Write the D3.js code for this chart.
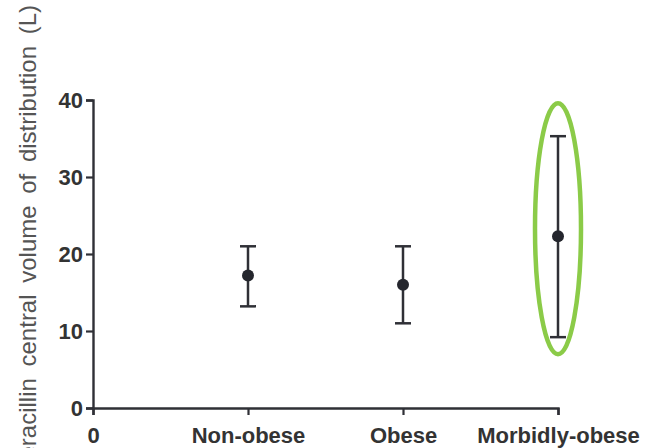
<!DOCTYPE html>
<html>
<head>
<meta charset="utf-8">
<script src="https://cdn.jsdelivr.net/npm/d3@7/dist/d3.min.js"></script>
<style>
  html, body { margin: 0; padding: 0; background: #fff; }
  svg { display: block; }
</style>
</head>
<body>
<svg id="chart" width="647" height="448"></svg>
<script>
// Groups and their mean with lower/upper error bounds (L)
const groups = ["Non-obese", "Obese", "Morbidly-obese"];
const means = [17.2, 16.0, 22.3];
const lower = [13.2, 11.0, 9.2];
const upper = [21.0, 21.0, 35.3];
const yTicks = [0, 10, 20, 30, 40];
const highlighted = ["Morbidly-obese"];

const svg = d3.select("#chart");
const ink = "#2f3036";
const font = "Liberation Sans, Arial, sans-serif";

const x = d3.scaleLinear().domain([0, 3]).range([93, 558]);
const y = d3.scaleLinear().domain([0, 40]).range([408, 100]);

// Y axis
const yAxis = svg.append("g")
  .attr("transform", `translate(${x(0)},0)`)
  .call(d3.axisLeft(y).tickValues(yTicks).tickSize(7).tickPadding(3).tickFormat(d3.format("d")));
yAxis.select(".domain").attr("stroke", ink).attr("stroke-width", 2.4);
yAxis.selectAll(".tick line").attr("stroke", ink).attr("stroke-width", 2.2);
yAxis.selectAll(".tick text")
  .attr("fill", "#333")
  .style("font-family", font)
  .style("font-weight", "bold")
  .style("font-size", "22px");

// X axis: origin label plus one tick per group
const xAxis = svg.append("g")
  .attr("transform", `translate(0,${y(0)})`)
  .call(d3.axisBottom(x).tickValues([0, 1, 2, 3]).tickSize(7).tickPadding(12)
    .tickFormat(d => d === 0 ? "0" : groups[d - 1]));
xAxis.select(".domain").attr("stroke", ink).attr("stroke-width", 2.4);
xAxis.selectAll(".tick line").attr("stroke", ink).attr("stroke-width", 2.2);
xAxis.selectAll(".tick text")
  .attr("fill", "#333")
  .style("font-family", font)
  .style("font-weight", "bold")
  .style("font-size", "22px");

// Y axis title (runs past the bottom edge of the plot area)
svg.append("text")
  .attr("transform", `translate(36,5) rotate(-90)`)
  .attr("text-anchor", "end")
  .attr("fill", "#555")
  .style("font-family", font)
  .style("font-size", "24px")
  .style("word-spacing", "5px")
  .text("Piperacillin central volume of distribution (L)");

// Error bars and mean points
const pts = groups.map((g, i) => ({ g, pos: i + 1, m: means[i], lo: lower[i], hi: upper[i] }));
const capW = 8;
const eb = svg.append("g").attr("stroke", ink).attr("stroke-width", 2.5);
eb.selectAll("line.v").data(pts).join("line")
  .attr("x1", d => x(d.pos)).attr("x2", d => x(d.pos))
  .attr("y1", d => y(d.lo)).attr("y2", d => y(d.hi));
eb.selectAll("line.hi").data(pts).join("line")
  .attr("x1", d => x(d.pos) - capW).attr("x2", d => x(d.pos) + capW)
  .attr("y1", d => y(d.hi)).attr("y2", d => y(d.hi));
eb.selectAll("line.lo").data(pts).join("line")
  .attr("x1", d => x(d.pos) - capW).attr("x2", d => x(d.pos) + capW)
  .attr("y1", d => y(d.lo)).attr("y2", d => y(d.lo));
svg.append("g").selectAll("circle").data(pts).join("circle")
  .attr("cx", d => x(d.pos)).attr("cy", d => y(d.m)).attr("r", 6)
  .attr("fill", "#24262d");

// Green ring around the highlighted group
svg.append("g").selectAll("ellipse")
  .data(pts.filter(d => highlighted.includes(d.g))).join("ellipse")
  .attr("cx", d => x(d.pos))
  .attr("cy", d => (y(d.hi) + y(d.lo)) / 2 - 8)
  .attr("rx", 23)
  .attr("ry", d => (y(d.lo) - y(d.hi)) / 2 + 25)
  .attr("fill", "none")
  .attr("stroke", "#8bcb48")
  .attr("stroke-width", 4.5);
</script>
</body>
</html>
